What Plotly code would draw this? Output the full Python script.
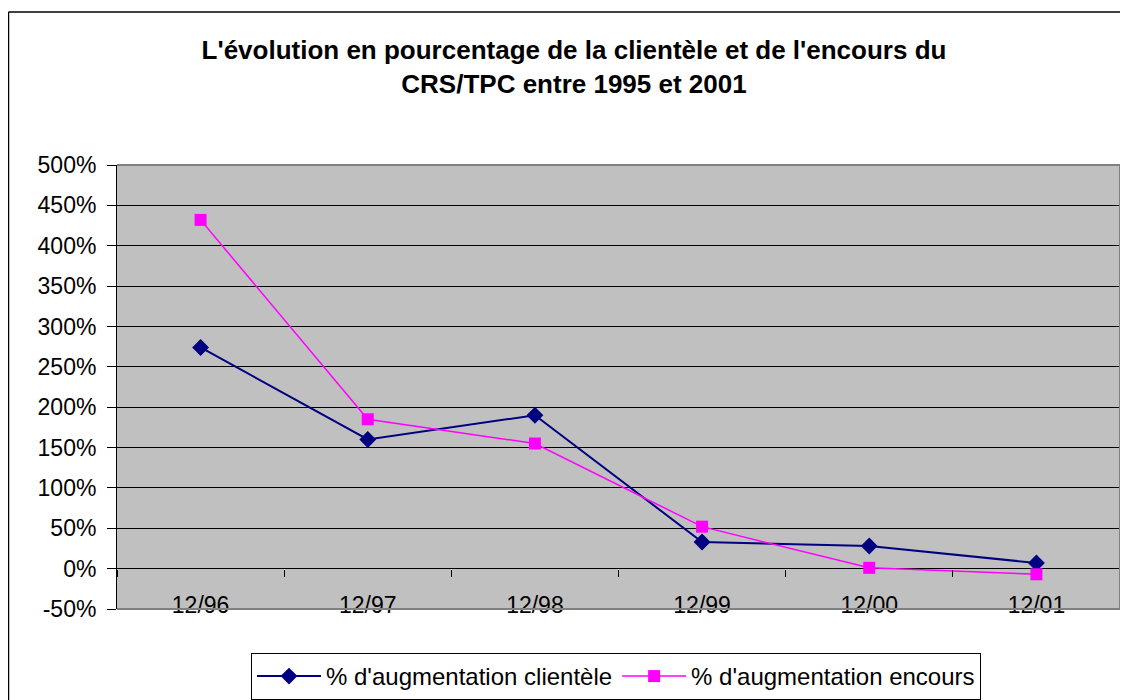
import plotly.graph_objects as go

categories = ["12/96", "12/97", "12/98", "12/99", "12/00", "12/01"]
clientele = [274, 160, 190, 33, 28, 7]
encours = [432, 185, 155, 52, 1, -7]
y_ticks = list(range(-50, 501, 50))
y_tick_labels = [f"{v}%" for v in y_ticks]
y_min, y_max = -50, 500

title_l1 = "L'évolution en pourcentage de la clientèle et de l'encours du"
title_l2 = "CRS/TPC entre 1995 et 2001"

FONT = "Liberation Sans, Arial, sans-serif"

# pixel layout (page body adds an 8px offset)
OFF = 8
L, R, T, B = 117 - OFF, 1120 - OFF, 165 - OFF, 609 - OFF
W, H = 1128, 700
pw, ph = R - L, B - T

fig = go.Figure()
fig.add_trace(go.Scatter(
    x=categories, y=clientele, mode="lines+markers",
    name="% d'augmentation clientèle",
    line=dict(color="#000080", width=2),
    marker=dict(symbol="diamond", size=13, color="#000080"),
))
fig.add_trace(go.Scatter(
    x=categories, y=encours, mode="lines+markers",
    name="% d'augmentation encours",
    line=dict(color="#FF00FF", width=1.5),
    marker=dict(symbol="square", size=12, color="#FF00FF"),
))

fig.update_layout(
    width=W, height=H,
    margin=dict(l=L, r=W - R, t=T, b=H - B, autoexpand=False),
    paper_bgcolor="white",
    plot_bgcolor="#C0C0C0",
    font=dict(family=FONT, size=23, color="black"),
    title=dict(
        text=title_l1 + "<br>" + title_l2,
        font=dict(family=FONT, size=26, color="black", weight="bold"),
        x=(574 - OFF) / W, xanchor="center", xref="container",
        y=1 - 51 / H, yanchor="top", yref="container",
    ),
    showlegend=True,
    legend=dict(
        orientation="h",
        x=(616 - OFF - L) / pw, xanchor="center",
        y=-(653 - OFF - B) / ph, yanchor="top",
        bordercolor="black", borderwidth=1, bgcolor="white",
        font=dict(family=FONT, size=24, color="black"),
        itemwidth=64,
    ),
    xaxis=dict(
        type="category",
        range=[-0.5, len(categories) - 0.5],
        anchor="free",
        position=(0 - y_min) / (y_max - y_min),
        tickson="boundaries",
        ticks="outside", ticklen=7, tickcolor="black", tickwidth=1,
        showgrid=False, showline=False, zeroline=False,
        ticklabelstandoff=20,
        automargin=False,
        tickfont=dict(family=FONT, size=23, color="black"),
    ),
    yaxis=dict(
        range=[y_min, y_max],
        tickmode="array",
        tickvals=y_ticks,
        ticktext=y_tick_labels,
        ticks="outside", ticklen=9, tickcolor="black", tickwidth=1,
        showline=True, linecolor="black", linewidth=1,
        showgrid=True, gridcolor="black", gridwidth=1,
        zeroline=False,
        ticklabelstandoff=6,
        automargin=False,
        tickfont=dict(family=FONT, size=23, color="black"),
    ),
)

# plot-area frame (gray, top/right/bottom)
for x0, y0, x1, y1 in [(0, 1, 1, 1), (1, 0, 1, 1), (0, 0, 1, 0)]:
    fig.add_shape(type="line", xref="x domain", yref="y domain",
                  x0=x0, y0=y0, x1=x1, y1=y1,
                  line=dict(color="#808080", width=2), layer="above")

# outer chart border (top and left edges visible)
bx, by = (8 - OFF - L) / pw + 0.5 / pw, (B - (12 - OFF)) / ph
fig.add_shape(type="line", xref="paper", yref="paper",
              x0=bx, x1=1.05, y0=by, y1=by,
              line=dict(color="black", width=1.5))
fig.add_shape(type="line", xref="paper", yref="paper",
              x0=bx, x1=bx, y0=by, y1=-0.3,
              line=dict(color="black", width=1.5))

fig.write_html("out.html")
